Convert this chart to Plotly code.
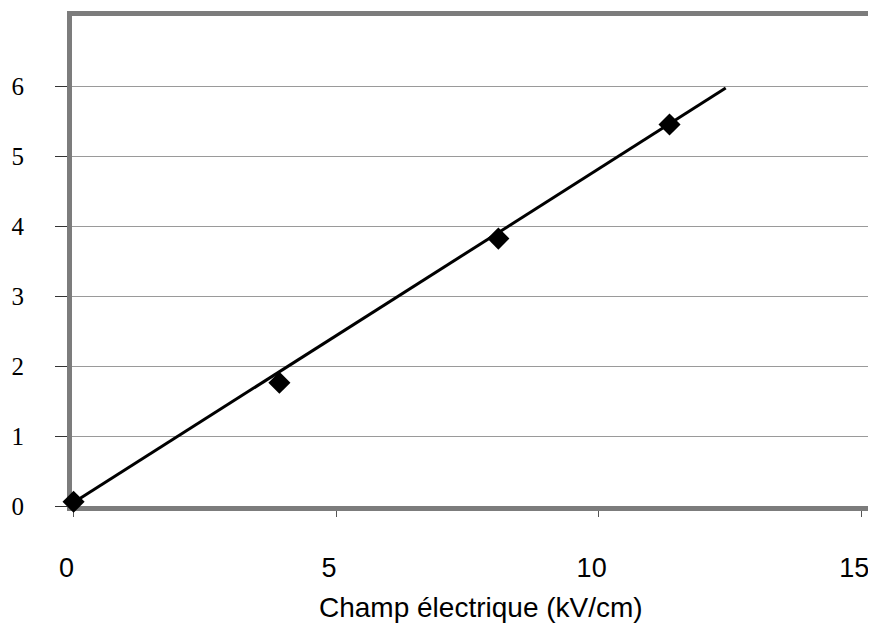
import plotly.graph_objects as go

# measured points
champ = [0, 3.92, 8.09, 11.35]
valeurs = [0.06, 1.76, 3.82, 5.45]

# linear trend line (end points)
tendance_x = [0, 12.42]
tendance_y = [0.05, 5.97]

x_ticks = [0, 5, 10, 15]
y_ticks = [0, 1, 2, 3, 4, 5, 6]

fig = go.Figure()

fig.add_trace(go.Scatter(
    x=tendance_x, y=tendance_y, mode="lines",
    line=dict(color="black", width=3),
    showlegend=False, hoverinfo="skip", cliponaxis=False
))

fig.add_trace(go.Scatter(
    x=champ, y=valeurs, mode="markers",
    marker=dict(symbol="diamond", size=17, color="black"),
    showlegend=False, cliponaxis=False
))

# page body has an 8px margin, so the figure is a bit smaller than the window
fig.update_layout(
    width=868, height=617,
    paper_bgcolor="white", plot_bgcolor="white",
    margin=dict(l=56, r=3, t=6, b=119),
    annotations=[dict(
        text="Champ électrique (kV/cm)",
        xref="paper", yref="paper", x=0.514, y=0,
        yshift=-101, yanchor="middle", showarrow=False,
        font=dict(family="Liberation Sans, Arial", size=28, color="black")
    )]
)

fig.update_xaxes(
    range=[-0.03, 15.13], tickvals=x_ticks,
    showgrid=False, zeroline=False, layer="below traces",
    showline=True, mirror=True, linewidth=5, linecolor="#7c7c7c",
    ticks="outside", ticklen=6, tickwidth=1, tickcolor="#555",
    ticklabelstandoff=28, ticklabelshift=-7, ticklabeloverflow="allow",
    tickfont=dict(family="Liberation Sans, Arial", size=27, color="black")
)

fig.update_yaxes(
    range=[0, 7], tickvals=y_ticks,
    showgrid=True, gridcolor="#9a9a9a", gridwidth=1, zeroline=False,
    layer="below traces",
    showline=True, mirror=True, linewidth=5, linecolor="#7c7c7c",
    ticks="outside", ticklen=12, tickwidth=1, tickcolor="#333",
    ticklabelstandoff=26,
    tickfont=dict(family="Liberation Serif, Times New Roman", size=25, color="black")
)

fig.write_html("out.html")
